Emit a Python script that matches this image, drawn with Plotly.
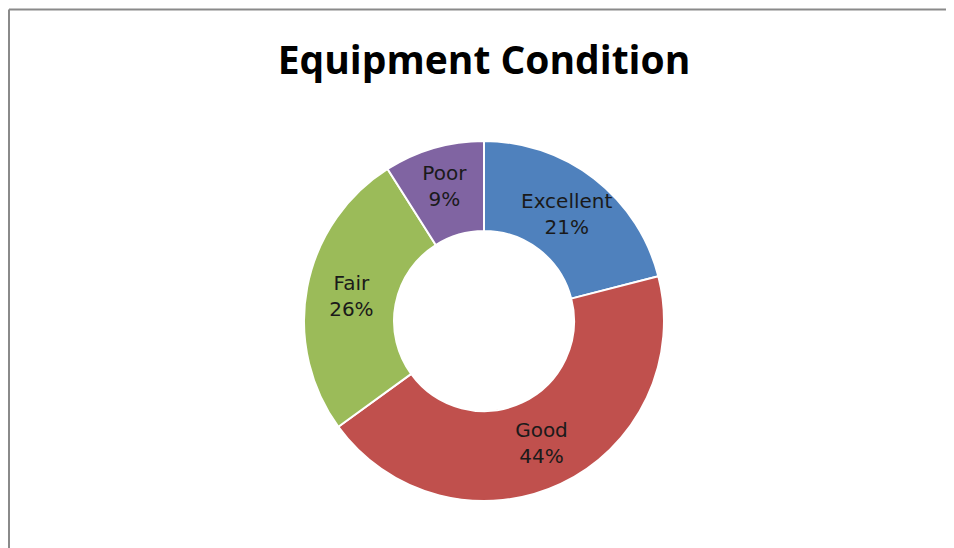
import plotly.graph_objects as go

categories = ["Excellent", "Good", "Fair", "Poor"]
values = [21, 44, 26, 9]
colors = ["#4F81BD", "#C0504D", "#9BBB59", "#8064A2"]

W, H = 954, 548
OFF = 8  # page body margin offset
cx, cy, r = 484 - OFF, 321 - OFF, 180

fig = go.Figure(go.Pie(
    labels=categories,
    values=values,
    sort=False,
    direction="clockwise",
    rotation=0,
    hole=0.5,
    marker=dict(colors=colors, line=dict(color="white", width=2)),
    texttemplate="%{label}<br>%{percent:.0%}",
    textposition="inside",
    insidetextorientation="horizontal",
    textfont=dict(family="DejaVu Sans, Verdana, sans-serif", size=20, color="#1a1a1a"),
    showlegend=False,
    domain=dict(x=[(cx - r) / W, (cx + r) / W], y=[(H - cy - r) / H, (H - cy + r) / H]),
))

fig.update_layout(
    width=W, height=H,
    margin=dict(l=0, r=0, t=0, b=0),
    paper_bgcolor="white",
    uniformtext=dict(minsize=20, mode="show"),
    title=dict(
        text="<b>Equipment Condition</b>",
        x=(484 - OFF) / W, xanchor="center",
        y=1 - (60 - OFF) / H, yanchor="middle", yref="paper",
        font=dict(family="Open Sans, DejaVu Sans, sans-serif", size=39, color="black"),
    ),
    shapes=[
        dict(type="line", xref="paper", yref="paper",
             x0=1 / W, x1=1 / W, y0=0, y1=1 - 1.5 / H,
             line=dict(color="#8a8a8a", width=2)),
        dict(type="line", xref="paper", yref="paper",
             x0=1 / W, x1=1, y0=1 - 1.5 / H, y1=1 - 1.5 / H,
             line=dict(color="#8a8a8a", width=2)),
    ],
)

fig.write_html("out.html")
